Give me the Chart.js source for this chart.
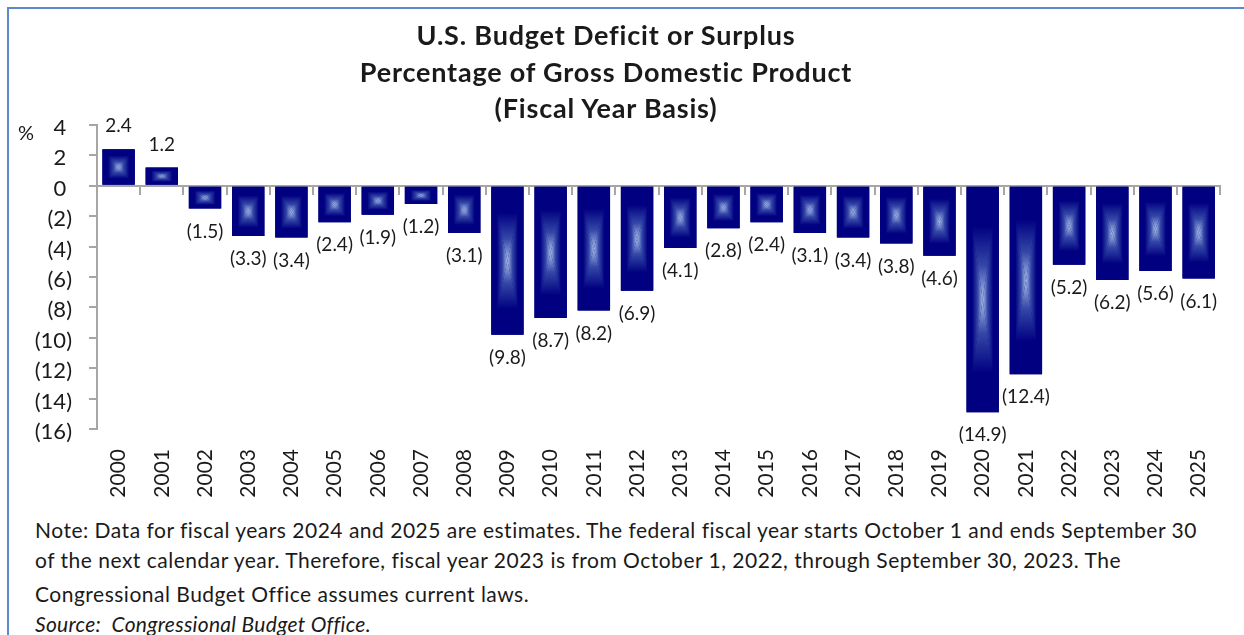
<!DOCTYPE html>
<html>
<head>
<meta charset="utf-8">
<script src="https://cdn.jsdelivr.net/npm/chart.js@4.4.1/dist/chart.umd.min.js"></script>
<style>
  body { margin: 0; background: #fff; font-family: Lato, "Noto Sans", sans-serif; color: #1a1a1a; }
  #page { position: relative; width: 1244px; height: 635px; overflow: hidden; }
  #frame { position: absolute; left: 7px; top: 7px; width: 1300px; height: 700px;
           border-top: 2px solid #5b89cc; border-left: 2px solid #5b89cc; }
  #title { position: absolute; left: 306px; width: 600px; top: 17px; text-align: center;
           font-weight: bold; font-size: 27px; line-height: 36.5px; letter-spacing: 0.8px; }
  #pct { position: absolute; left: 18px; top: 120px; font-size: 20px; }
  #box { position: absolute; left: 0; top: 0; width: 1244px; height: 512px; }
  .note { position: absolute; left: 35px; font-size: 21px; line-height: 30px; letter-spacing: 0.5px; white-space: nowrap; }
  .src { font-style: italic; letter-spacing: 0.3px; }
</style>
</head>
<body>
<div id="page">
  <div id="frame"></div>
  <div id="box"><canvas id="chart"></canvas></div>
  <div id="title">U.S. Budget Deficit or Surplus<br>Percentage of Gross Domestic Product<br>(Fiscal Year Basis)</div>
  <div id="pct">%</div>
  <div class="note" style="top:515px">Note: Data for fiscal years 2024 and 2025 are estimates. The federal fiscal year starts October 1 and ends September 30</div>
  <div class="note" style="top:545px">of the next calendar year. Therefore, fiscal year 2023 is from October 1, 2022, through September 30, 2023. The</div>
  <div class="note" style="top:579px">Congressional Budget Office assumes current laws.</div>
  <div class="note src" style="top:609px">Source:&nbsp; Congressional Budget Office.</div>
</div>
<script>
// Datos (% del PIB)
const years = ['2000', '2001', '2002', '2003', '2004', '2005', '2006', '2007', '2008', '2009',
               '2010', '2011', '2012', '2013', '2014', '2015', '2016', '2017', '2018', '2019',
               '2020', '2021', '2022', '2023', '2024', '2025'];
const balance = [2.4, 1.2, -1.5, -3.3, -3.4, -2.4, -1.9, -1.2, -3.1, -9.8,
                 -8.7, -8.2, -6.9, -4.1, -2.8, -2.4, -3.1, -3.4, -3.8, -4.6,
                 -14.9, -12.4, -5.2, -6.2, -5.6, -6.1];
const yMin = -16;
const yMax = 4;
const yStep = 2;

const axisGray = '#a6a6a6';
const navy = '#000080';

function fmt(v) {
    return v < 0 ? '(' + Math.abs(v).toFixed(1) + ')' : v.toFixed(1);
}

// Degradado rectangular desde el centro (4 triangulos)
const barShade = {
    id: 'barShade',
    afterDatasetsDraw(chart) {
        const ctx = chart.ctx;
        chart.getDatasetMeta(0).data.forEach(bar => {
            const p = bar.getProps(['x', 'y', 'base', 'width'], true);
            const l = p.x - p.width / 2, r = p.x + p.width / 2;
            const t = Math.min(p.y, p.base), b = Math.max(p.y, p.base);
            const cx = p.x, cy = (t + b) / 2;
            const parts = [
                [[l, t], [r, t], [cx, t, cx, cy]],
                [[r, b], [l, b], [cx, b, cx, cy]],
                [[l, b], [l, t], [l, cy, cx, cy]],
                [[r, t], [r, b], [r, cy, cx, cy]]
            ];
            parts.forEach(([a, c, g]) => {
                const grad = ctx.createLinearGradient(g[0], g[1], g[2], g[3]);
                grad.addColorStop(0, navy);
                grad.addColorStop(0.35, navy);
                grad.addColorStop(0.7, '#3447a8');
                grad.addColorStop(1, '#a9bde9');
                ctx.save();
                ctx.beginPath();
                ctx.moveTo(a[0], a[1]);
                ctx.lineTo(c[0], c[1]);
                ctx.lineTo(cx, cy);
                ctx.closePath();
                ctx.fillStyle = grad;
                ctx.fill();
                ctx.restore();
            });
        });
    }
};

// Etiquetas de valor
const valueLabels = {
    id: 'valueLabels',
    afterDatasetsDraw(chart) {
        const ctx = chart.ctx;
        ctx.save();
        ctx.font = '19px Lato, "Noto Sans", sans-serif';
        ctx.fillStyle = '#1a1a1a';
        ctx.textAlign = 'center';
        ctx.textBaseline = 'middle';
        chart.getDatasetMeta(0).data.forEach((bar, i) => {
            const v = balance[i];
            const y = v >= 0 ? bar.y - 23 : bar.y + 23;
            ctx.fillText(fmt(v), bar.x, y);
        });
        ctx.restore();
    }
};

new Chart(document.getElementById('chart'), {
    type: 'bar',
    data: {
        labels: years,
        datasets: [{
            data: balance,
            backgroundColor: navy,
            categoryPercentage: 1,
            barPercentage: 0.75
        }]
    },
    options: {
        responsive: true,
        maintainAspectRatio: false,
        animation: false,
        layout: { padding: { top: 125, right: 5, left: 0, bottom: 0 } },
        plugins: { legend: { display: false }, tooltip: { enabled: false } },
        scales: {
            x: {
                offset: true,
                grid: { display: false, drawTicks: false },
                border: { display: false },
                ticks: {
                    minRotation: 90, maxRotation: 90, padding: 20,
                    color: '#1a1a1a',
                    font: { family: 'Lato', size: 21 }
                },
                afterFit: s => { s.height = 83; }
            },
            x2: {
                type: 'category',
                position: { y: 0 },
                offset: true,
                grid: { offset: true, drawOnChartArea: false, tickLength: 8, color: axisGray, lineWidth: 2 },
                border: { color: axisGray, width: 2 },
                ticks: { display: false }
            },
            y: {
                min: yMin, max: yMax,
                ticks: {
                    stepSize: yStep, padding: 17, labelOffset: 3,
                    color: '#1a1a1a',
                    font: { family: 'Lato', size: 22 },
                    callback: v => v < 0 ? '(' + Math.abs(v) + ')' : v + ' '
                },
                grid: { drawOnChartArea: false, tickLength: 8, color: axisGray, lineWidth: 2 },
                border: { color: axisGray, width: 2 },
                afterFit: s => { s.width = 97; }
            }
        }
    },
    plugins: [barShade, valueLabels]
});
</script>
</body>
</html>
